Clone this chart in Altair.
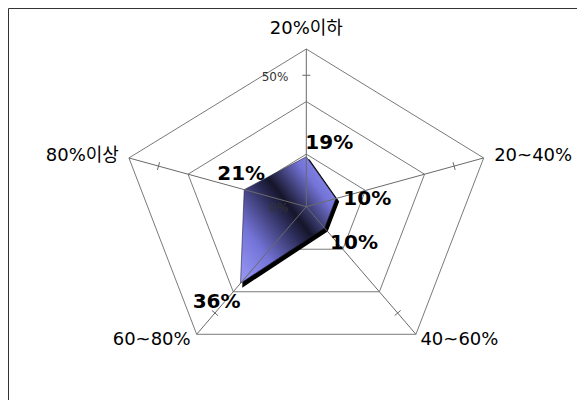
import altair as alt
import pandas as pd
import numpy as np

# ---------------- data ----------------
categories = ["20%이하", "20~40%", "40~60%", "60~80%", "80%이상"]
values = [19, 10, 10, 36, 21]
value_labels = ["19%", "10%", "10%", "36%", "21%"]
grid_levels = [20, 40, 60]
axis_max = 60
tick_level = 50
axis_tick_values = [0, 50]
axis_tick_labels = ["0%", "50%"]

# ---------------- layout ----------------
W, H = 569, 392
CX, CY = 298.3, 198.7          # centre of the radar in chart pixels
RX, RY = 186.5, 157.7          # pixel radius of axis_max (horizontal / vertical)
kx, ky = RX / axis_max, RY / axis_max
xdom = [-CX / kx, (W - CX) / kx]
ydom = [(CY - H) / ky, CY / ky]

n = len(categories)
angles = np.arange(n) * 2 * np.pi / n

X = alt.X("x:Q", scale=alt.Scale(domain=xdom, nice=False, zero=False), axis=None)
Y = alt.Y("y:Q", scale=alt.Scale(domain=ydom, nice=False, zero=False), axis=None)


def px(v, a):
    return v * np.sin(a), v * np.cos(a)


# grid pentagons
grid_rows = []
for lv in grid_levels:
    for i in range(n + 1):
        a = angles[i % n]
        x, y = px(lv, a)
        grid_rows.append({"level": lv, "o": i, "x": x, "y": y})
grid_df = pd.DataFrame(grid_rows)

grid = alt.Chart(grid_df).mark_line(color="#7a7a7a", strokeWidth=1).encode(
    x=X, y=Y, detail="level:N", order="o:Q"
)

# spokes
spoke_rows = []
for i, a in enumerate(angles):
    x, y = px(axis_max, a)
    spoke_rows.append({"s": i, "o": 0, "x": 0.0, "y": 0.0})
    spoke_rows.append({"s": i, "o": 1, "x": x, "y": y})
spoke_df = pd.DataFrame(spoke_rows)
spokes = alt.Chart(spoke_df).mark_line(color="#6a6a6a", strokeWidth=1).encode(
    x=X, y=Y, detail="s:N", order="o:Q"
)

# tick marks at tick_level (perpendicular, ~8px long)
tick_rows = []
half = 4.0
for i, a in enumerate(angles):
    bx, by = px(tick_level, a)
    dxp, dyp = np.sin(a) * kx, np.cos(a) * ky
    L = np.hypot(dxp, dyp)
    pxp, pyp = -dyp / L * half, dxp / L * half
    tick_rows.append({"t": i, "o": 0, "x": bx + pxp / kx, "y": by + pyp / ky})
    tick_rows.append({"t": i, "o": 1, "x": bx - pxp / kx, "y": by - pyp / ky})
tick_df = pd.DataFrame(tick_rows)
ticks = alt.Chart(tick_df).mark_line(color="#6a6a6a", strokeWidth=1).encode(
    x=X, y=Y, detail="t:N", order="o:Q"
)

# data polygon
poly_rows = []
for i in range(n + 1):
    a = angles[i % n]
    x, y = px(values[i % n], a)
    poly_rows.append({"o": i, "x": x, "y": y})
poly_df = pd.DataFrame(poly_rows)

shadow_df = poly_df.copy()
shadow_df["x"] = shadow_df["x"] + 2.5 / kx
shadow_df["y"] = shadow_df["y"] - 3.0 / ky

shadow = alt.Chart(shadow_df).mark_line(
    fill="#000000", stroke="#000000", strokeWidth=1.5, fillOpacity=1
).encode(x=X, y=Y, order="o:Q")

grad = alt.LinearGradient(
    gradient="linear",
    stops=[
        alt.GradientStop(color="#9a9af8", offset=0),
        alt.GradientStop(color="#7474d8", offset=0.22),
        alt.GradientStop(color="#15152a", offset=0.44),
        alt.GradientStop(color="#2a2a55", offset=0.52),
        alt.GradientStop(color="#7474d8", offset=0.76),
        alt.GradientStop(color="#9a9af8", offset=1),
    ],
    x1=1, y1=0, x2=0, y2=1,
)
poly = alt.Chart(poly_df).mark_line(
    fill=grad, stroke="#20203a", strokeWidth=0.6, fillOpacity=1
).encode(x=X, y=Y, order="o:Q")

layers = [grid, shadow, poly, spokes, ticks]

# axis value labels (0%, 50%)
for v, lab in zip(axis_tick_values, axis_tick_labels):
    d = pd.DataFrame({"x": [0.0], "y": [float(v)], "t": [lab]})
    layers.append(
        alt.Chart(d).mark_text(
            align="right", baseline="middle", dx=-18, dy=1.5,
            font="DejaVu Sans", fontSize=12, color="#333333",
        ).encode(x=X, y=Y, text="t:N")
    )

# category labels
cat_layout = [("center", 0, -20), ("left", 10.5, -2), ("left", 4.5, 6),
              ("right", -6, 6), ("right", -10, -2)]
for i, (lab, a) in enumerate(zip(categories, angles)):
    x, y = px(axis_max, a)
    al, ddx, ddy = cat_layout[i]
    d = pd.DataFrame({"x": [x], "y": [y], "t": [lab]})
    layers.append(
        alt.Chart(d).mark_text(
            align=al, baseline="middle", dx=ddx, dy=ddy,
            font="DejaVu Sans, Noto Sans CJK KR", fontSize=18, color="#000000",
        ).encode(x=X, y=Y, text="t:N")
    )

# value labels
val_layout = [("left", -1, -13.5), ("left", 7.5, 0), ("left", 5.5, 15),
              ("right", 0, 18.5), ("center", -3, -16)]
for i, (v, lab, a) in enumerate(zip(values, value_labels, angles)):
    x, y = px(v, a)
    al, ddx, ddy = val_layout[i]
    d = pd.DataFrame({"x": [x], "y": [y], "t": [lab]})
    layers.append(
        alt.Chart(d).mark_text(
            align=al, baseline="middle", dx=ddx, dy=ddy,
            font="DejaVu Sans", fontSize=20, fontWeight="bold", color="#000000",
        ).encode(x=X, y=Y, text="t:N")
    )

# frame (top and left edges visible)
one = pd.DataFrame({"k": [0]})
frame_top = alt.Chart(one).mark_rule(color="#333333", strokeWidth=1).encode(
    x=alt.value(0.5), x2=alt.value(W), y=alt.value(0.5)
)
frame_left = alt.Chart(one).mark_rule(color="#333333", strokeWidth=1).encode(
    x=alt.value(0.5), y=alt.value(0.5), y2=alt.value(H)
)
layers += [frame_top, frame_left]

chart = alt.layer(*layers).properties(
    width=W, height=H, padding=0, autosize=alt.AutoSizeParams(type="none"),
    background="white",
).configure_view(stroke=None)

chart.save("out.html", embed_options={"renderer": "svg", "actions": False})
